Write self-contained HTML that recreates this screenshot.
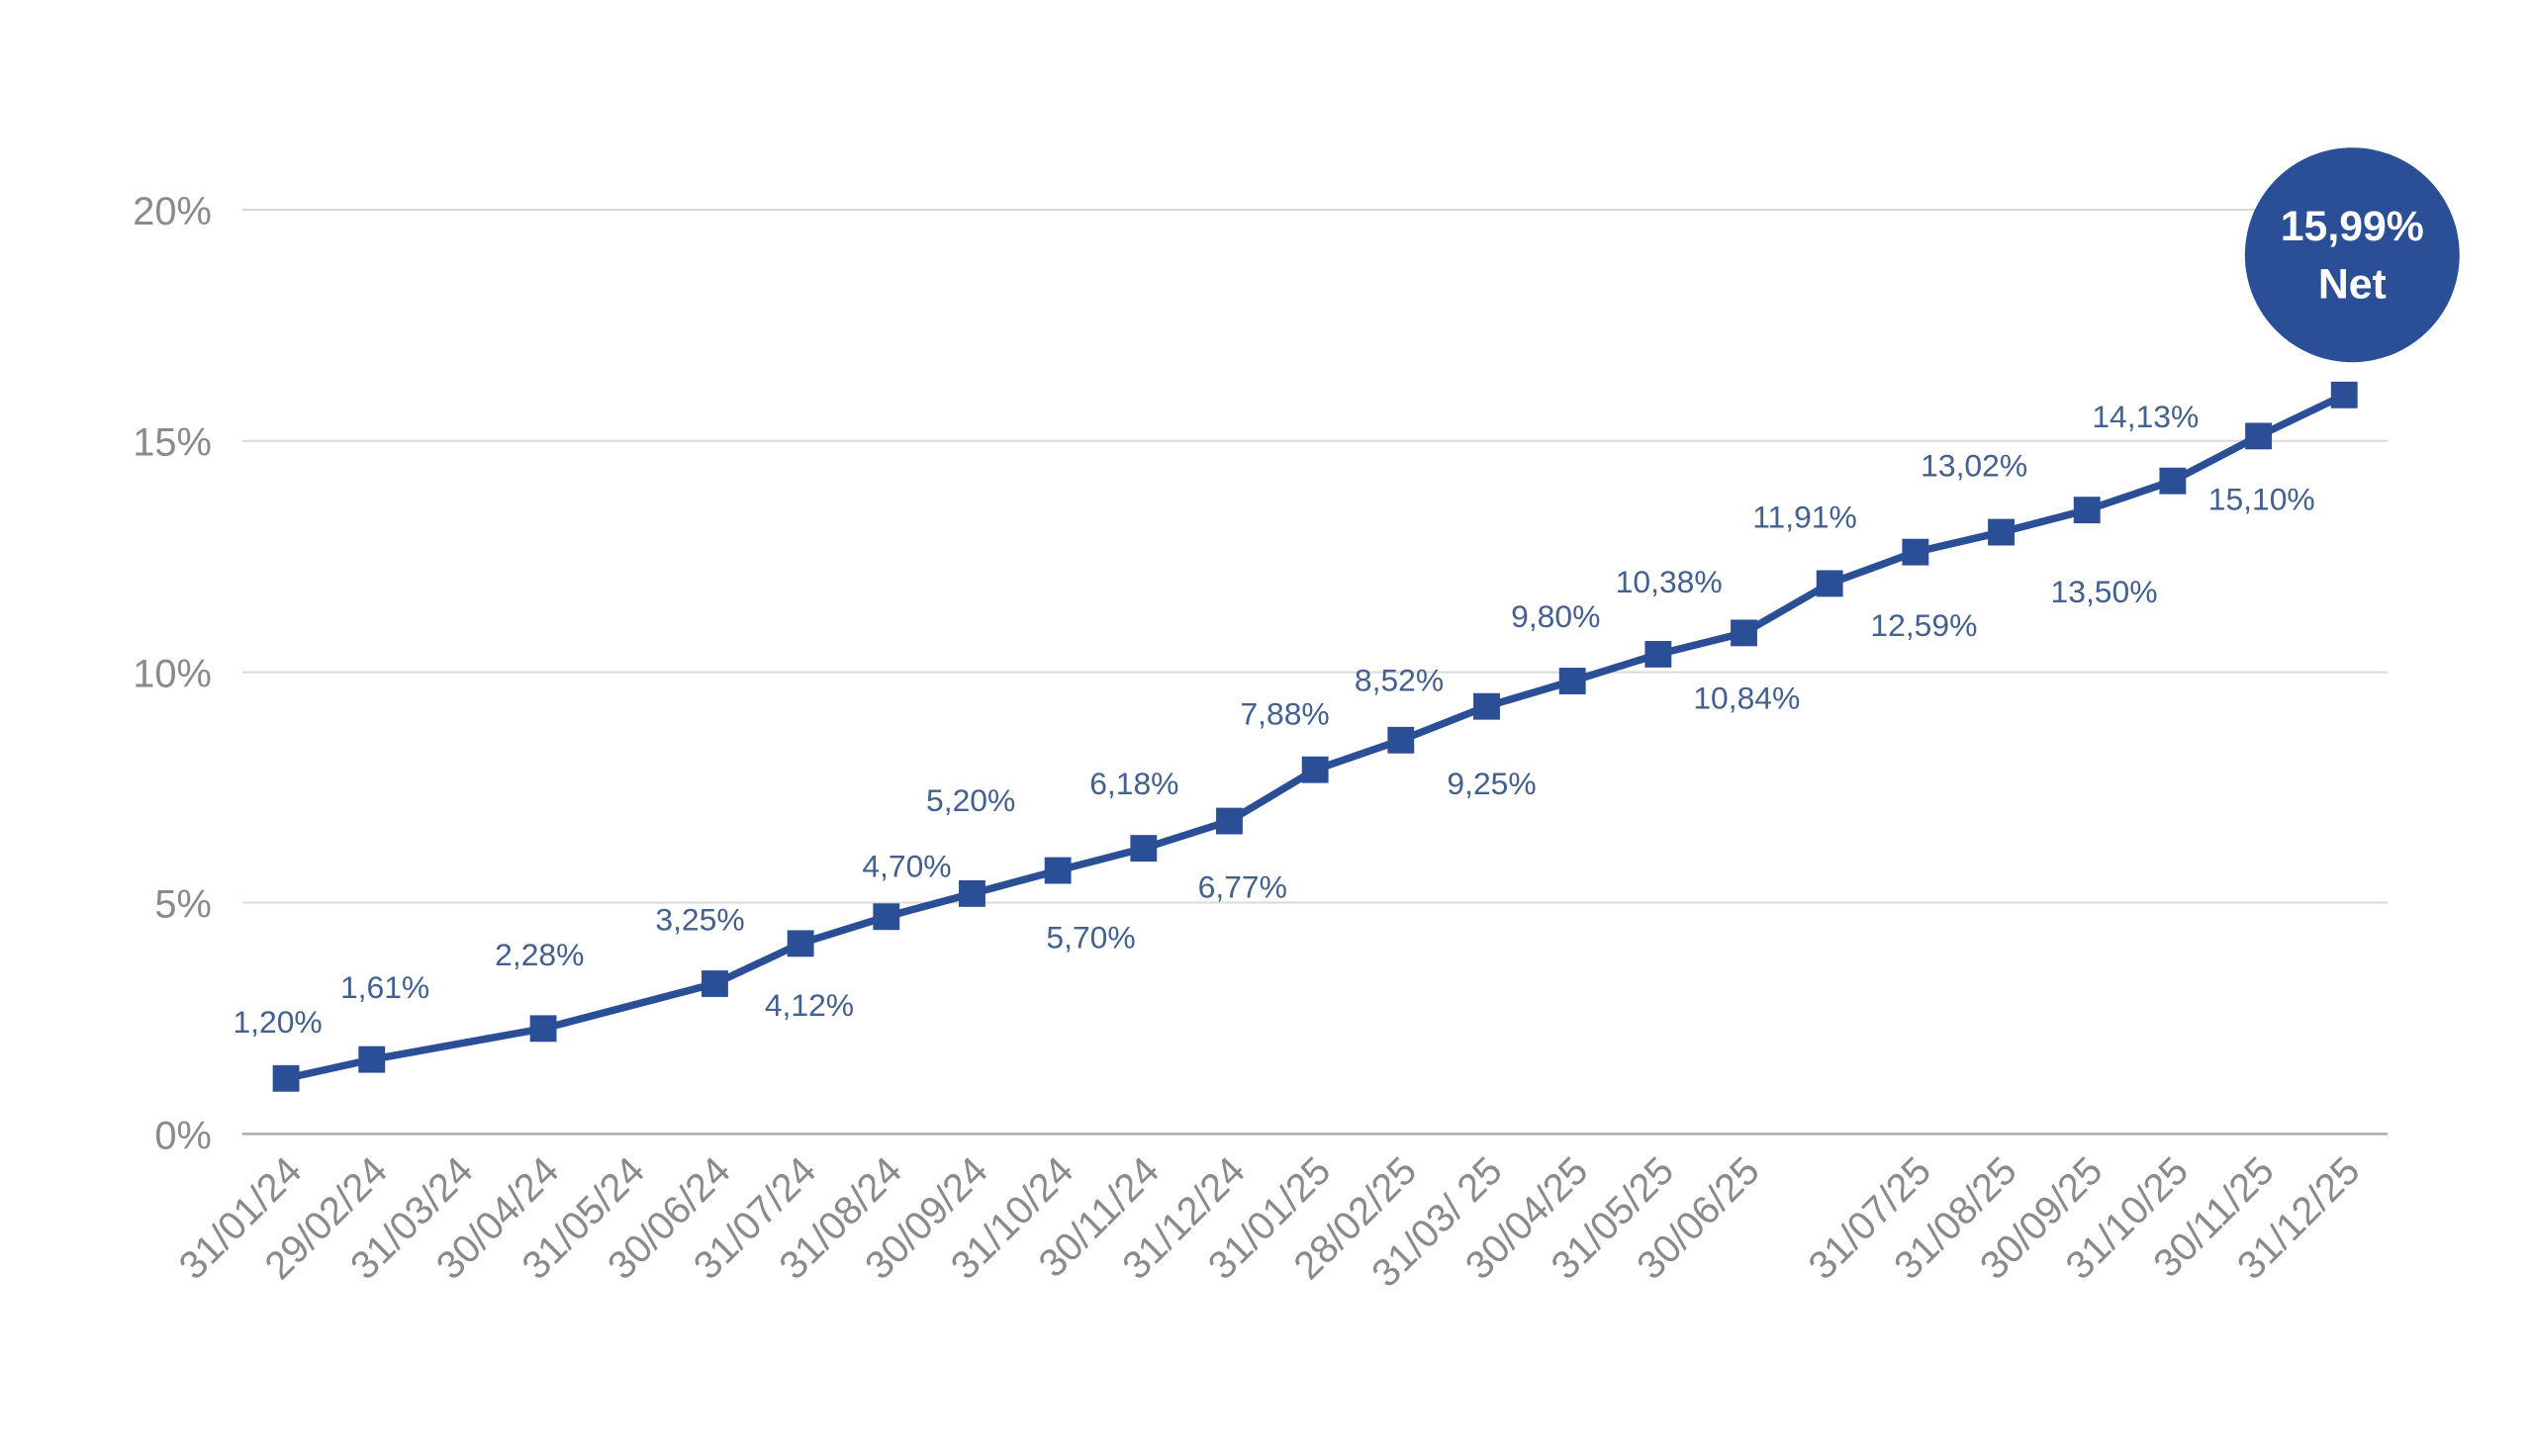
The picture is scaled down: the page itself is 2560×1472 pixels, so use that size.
<!DOCTYPE html>
<html><head><meta charset="utf-8"><style>html,body{margin:0;padding:0;background:#fff}svg{display:block}</style></head>
<body>
<svg xmlns="http://www.w3.org/2000/svg" width="2560" height="1472" viewBox="0 0 2560 1472" font-family="Liberation Sans, sans-serif">
<rect width="2560" height="1472" fill="#fff"/>
<g transform="scale(0.9951)">
<g stroke="#d9d9d9" stroke-width="2">
<line x1="246" y1="213" x2="2425" y2="213"/>
<line x1="246" y1="448" x2="2425" y2="448"/>
<line x1="246" y1="683" x2="2425" y2="683"/>
<line x1="246" y1="917" x2="2425" y2="917"/>
</g>
<line x1="246" y1="1152" x2="2425" y2="1152" stroke="#aaaaaa" stroke-width="2.5"/>
<g fill="#8a8a8a" font-size="40" text-anchor="end">
<text x="215" y="228">20%</text>
<text x="215" y="463">15%</text>
<text x="215" y="698">10%</text>
<text x="215" y="932">5%</text>
<text x="215" y="1167">0%</text>
</g>
<g fill="#8a8a8a" font-size="40" text-anchor="end" id="xl"></g>
<polyline id="ln" fill="none" stroke="#2b4f96" stroke-width="7.5" stroke-linejoin="round"/>
<g id="mk" fill="#2b4f96"></g>
<g fill="#44608e" font-size="32" text-anchor="middle">
<text x="282" y="1049">1,20%</text>
<text x="391" y="1014">1,61%</text>
<text x="548" y="981">2,28%</text>
<text x="711" y="945">3,25%</text>
<text x="822" y="1032">4,12%</text>
<text x="921" y="891">4,70%</text>
<text x="986" y="824">5,20%</text>
<text x="1108" y="963">5,70%</text>
<text x="1152" y="807">6,18%</text>
<text x="1262" y="912">6,77%</text>
<text x="1305" y="736">7,88%</text>
<text x="1421" y="702">8,52%</text>
<text x="1515" y="807">9,25%</text>
<text x="1580" y="637">9,80%</text>
<text x="1695" y="602">10,38%</text>
<text x="1774" y="720">10,84%</text>
<text x="1833" y="536">11,91%</text>
<text x="1954" y="646">12,59%</text>
<text x="2005" y="484">13,02%</text>
<text x="2137" y="612">13,50%</text>
<text x="2179" y="434">14,13%</text>
<text x="2297" y="518">15,10%</text>
</g>
<circle cx="2389" cy="259" r="109" fill="#2b4f96"/>
<g fill="#fff" font-size="43" font-weight="bold" text-anchor="middle">
<text x="2389" y="244">15,99%</text>
<text x="2389" y="303">Net</text>
</g>
</g>
<script>
var cats=["31/01/24","29/02/24","31/03/24","30/04/24","31/05/24","30/06/24","31/07/24","31/08/24","30/09/24","31/10/24","30/11/24","31/12/24","31/01/25","28/02/25","31/03/ 25","30/04/25","31/05/25","30/06/25","","31/07/25","31/08/25","30/09/25","31/10/25","30/11/25","31/12/25"];
var vals={0:1.20,1:1.61,3:2.28,5:3.25,6:4.12,7:4.70,8:5.20,9:5.70,10:6.18,11:6.77,12:7.88,13:8.52,14:9.25,15:9.80,16:10.38,17:10.84,18:11.91,19:12.59,20:13.02,21:13.50,22:14.13,23:15.10,24:15.99};
var NS="http://www.w3.org/2000/svg",xl=document.getElementById("xl"),mk=document.getElementById("mk"),pts=[];
function X(i){return 290.5+i*87.1}function Y(v){return 1152-v*46.95}
cats.forEach(function(c,i){if(!c)return;var t=document.createElementNS(NS,"text");var x=X(i)+18,y=1192;t.setAttribute("x",x);t.setAttribute("y",y);t.setAttribute("transform","rotate(-45 "+x+" "+y+")");t.textContent=c;xl.appendChild(t);});
Object.keys(vals).forEach(function(k){var i=+k,x=X(i),y=Y(vals[k]);pts.push(x+","+y);var r=document.createElementNS(NS,"rect");r.setAttribute("x",x-13.5);r.setAttribute("y",y-13.5);r.setAttribute("width",27);r.setAttribute("height",27);mk.appendChild(r);});
document.getElementById("ln").setAttribute("points",pts.join(" "));
</script>
</svg>
</body></html>
